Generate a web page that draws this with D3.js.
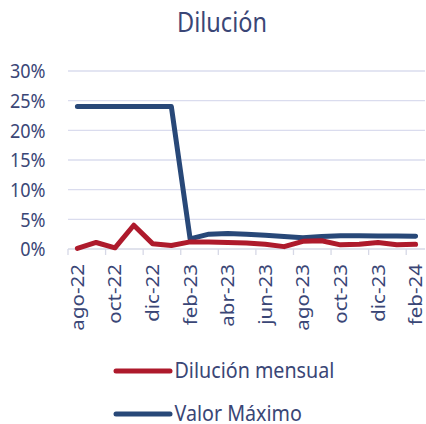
<!DOCTYPE html>
<html>
<head>
<meta charset="utf-8">
<script src="https://cdn.jsdelivr.net/npm/d3@7"></script>
<style>
  body { margin: 0; background: #fff; }
  text { font-family: "Noto Sans", "Open Sans", sans-serif; fill: #3a4676; }
</style>
</head>
<body>
<div id="chart"></div>
<script>
var width = 426, height = 424;

var months = ['ago-22', 'sep-22', 'oct-22', 'nov-22', 'dic-22', 'ene-23', 'feb-23', 'mar-23', 'abr-23', 'may-23',
    'jun-23', 'jul-23', 'ago-23', 'sep-23', 'oct-23', 'nov-23', 'dic-23', 'ene-24', 'feb-24'];
var dilucionMensual = [0.1, 1.1, 0.2, 4.0, 0.9, 0.6, 1.2, 1.2, 1.1, 1.0, 0.8, 0.4, 1.3, 1.4, 0.7, 0.8, 1.1, 0.7, 0.8];
var valorMaximo = [24, 24, 24, 24, 24, 24, 1.7, 2.5, 2.6, 2.5, 2.3, 2.1, 1.9, 2.1, 2.25, 2.25, 2.2, 2.2, 2.15];
var yTicks = [0, 5, 10, 15, 20, 25, 30];

var series = [
    { name: 'Dilución mensual', values: dilucionMensual, color: '#ae1a2c' },
    { name: 'Valor Máximo', values: valorMaximo, color: '#284878' }
];

// the original picture is a bit taller than wide, so text is stretched vertically
var stretch = 1.14;

var svg = d3.select('#chart').append('svg')
    .attr('width', width)
    .attr('height', height);

var x = d3.scaleBand().domain(months).range([68, 425]);
var y = d3.scaleLinear().domain([0, 30]).range([249, 71]);

// title
svg.append('text')
    .attr('transform', 'translate(222,31.5) scale(1,' + stretch + ')')
    .attr('text-anchor', 'middle')
    .style('font-size', '23.5px')
    .text('Dilución');

// gridlines
svg.append('g').selectAll('line')
    .data(yTicks.filter(function(d) { return d > 0; }))
    .enter().append('line')
    .attr('x1', 68).attr('x2', 425)
    .attr('y1', function(d) { return y(d); })
    .attr('y2', function(d) { return y(d); })
    .attr('stroke', '#dadcee')
    .attr('stroke-width', 1.3);

// y labels
svg.append('g').selectAll('text')
    .data(yTicks)
    .enter().append('text')
    .attr('transform', function(d) { return 'translate(45.5,' + y(d) + ') scale(1,' + stretch + ')'; })
    .attr('dy', '0.36em')
    .attr('text-anchor', 'end')
    .style('font-size', '18px')
    .text(function(d) { return d + '%'; });

// x axis
svg.append('line')
    .attr('x1', 68).attr('x2', 425)
    .attr('y1', y(0)).attr('y2', y(0))
    .attr('stroke', '#d6d8e6').attr('stroke-width', 1.3);

var tickIdx = d3.range(0, months.length, 2);
svg.append('g').selectAll('line')
    .data(tickIdx)
    .enter().append('line')
    .attr('x1', function(i) { return x(months[i]); })
    .attr('x2', function(i) { return x(months[i]); })
    .attr('y1', y(0)).attr('y2', y(0) + 6)
    .attr('stroke', '#d6d8e6').attr('stroke-width', 1.3);

svg.append('g').selectAll('text')
    .data(tickIdx)
    .enter().append('text')
    .attr('transform', function(i) {
        return 'translate(' + (x(months[i]) + x.bandwidth() / 2) + ',' + (y(0) + 15) + ') rotate(-90) scale(' + stretch + ',1)';
    })
    .attr('dy', '0.36em')
    .attr('text-anchor', 'end')
    .style('font-size', '18px')
    .text(function(i) { return months[i]; });

// lines
var line = d3.line()
    .x(function(d, i) { return x(months[i]) + x.bandwidth() / 2; })
    .y(function(d) { return y(d); });

series.slice().reverse().forEach(function(s) {
    svg.append('path')
        .datum(s.values)
        .attr('d', line)
        .attr('fill', 'none')
        .attr('stroke', s.color)
        .attr('stroke-width', 5)
        .attr('stroke-linejoin', 'round')
        .attr('stroke-linecap', 'round');
});

// legend
var legend = svg.append('g').selectAll('g')
    .data(series)
    .enter().append('g')
    .attr('transform', function(d, i) { return 'translate(0,' + (371 + i * 43) + ')'; });

legend.append('line')
    .attr('x1', 116).attr('x2', 170)
    .attr('stroke', function(d) { return d.color; })
    .attr('stroke-width', 5)
    .attr('stroke-linecap', 'round');

legend.append('text')
    .attr('transform', 'translate(174.5,7) scale(1,' + stretch + ')')
    .style('font-size', '19.7px')
    .text(function(d) { return d.name; });
</script>
</body>
</html>
